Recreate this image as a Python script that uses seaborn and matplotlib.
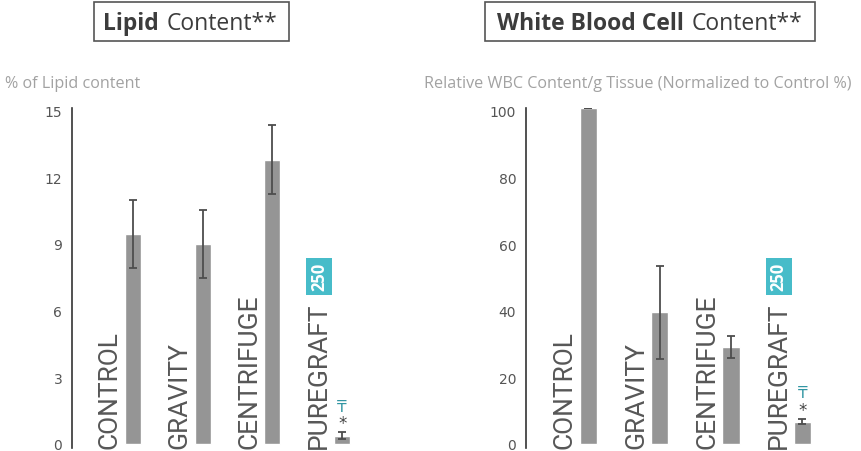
import matplotlib
matplotlib.use("Agg")
import matplotlib.pyplot as plt
import matplotlib.patches as mpatches
import matplotlib.transforms as mtransforms
import seaborn as sns
import pandas as pd

# Data
groups = ["CONTROL", "GRAVITY", "CENTRIFUGE", "PUREGRAFT"]
lipid_mean = [9.45, 9.0, 12.8, 0.35]
lipid_err = [1.55, 1.55, 1.57, 0.15]
wbc_mean = [101.0, 39.4, 29.0, 6.6]
wbc_err = [0.0, 14.1, 3.4, 0.8]
lipid_ticks = [0, 3, 6, 9, 12, 15]
wbc_ticks = [0, 20, 40, 60, 80, 100]

BAR_COLOR = "#959595"
ERR_COLOR = "#4d4d4d"
TEAL = "#47bcc9"
TEXT_DARK = "#3c3c3c"
TEXT_LIGHT = "#a2a2a2"

sns.set_style("white")
plt.rcParams["font.family"] = ["Open Sans", "DejaVu Sans"]

W, H = 862, 452
fig = plt.figure(figsize=(W / 100, H / 100), dpi=100)


def px_box(x0, y0, x1, y1):
    """Axes rectangle from pixel coords (top-left origin)."""
    return [x0 / W, 1 - y1 / H, (x1 - x0) / W, (y1 - y0) / H]


def draw_panel(ax, means, errs, ticks, ylim, bar_width):
    df = pd.DataFrame({"group": groups, "value": means})
    sns.barplot(data=df, x="group", y="value", color=BAR_COLOR, width=bar_width,
                errorbar=None, saturation=1, ax=ax)
    ax.errorbar(range(len(groups)), means, yerr=errs, fmt="none", ecolor=ERR_COLOR,
                elinewidth=1.3, capsize=3, capthick=1.3)
    ax.set_xlim(-0.875, 3.6)
    ax.set_ylim(*ylim)
    ax.set_yticks(ticks)
    ax.set_yticklabels([str(t) for t in ticks], color="#555555", fontsize=10,
                       family=["DejaVu Sans"])
    ax.tick_params(axis="y", length=0, pad=7)
    ax.set_xticks([])
    ax.set_xlabel("")
    ax.set_ylabel("")
    for s in ["top", "right", "bottom"]:
        ax.spines[s].set_visible(False)
    ax.spines["left"].set_color("#333333")
    ax.spines["left"].set_linewidth(1.2)

    # rotated category labels to the left of each bar
    trans = ax.get_xaxis_transform()
    shift = mtransforms.ScaledTranslation(-3 / 100, 0, fig.dpi_scale_trans)
    for i, g in enumerate(groups):
        ax.text(i - bar_width / 2, 0.0, g, rotation=90, ha="right", va="bottom",
                transform=trans + shift, fontsize=19, color="#575757",
                family=["Roboto", "DejaVu Sans"], fontweight="normal")

    # teal "250" badge above PUREGRAFT
    ax.text(3 - 0.33, 0.505, "250", rotation=90, ha="center", va="center",
            transform=trans, fontsize=12, fontweight="bold", color="white",
            bbox=dict(boxstyle="square,pad=0.25", facecolor=TEAL, edgecolor="none"))

    # significance marks above the PUREGRAFT bar
    top = means[3] + errs[3]
    ax.annotate("*", (3, top), xytext=(0, 0), textcoords="offset points",
                ha="center", va="bottom", fontsize=12, color="#444444",
                family=["DejaVu Sans"])
    ax.annotate("\u20b8", (3, top), xytext=(0, 13.5), textcoords="offset points",
                ha="center", va="bottom", fontsize=11, color="#3296a3",
                family=["DejaVu Sans"])


ax1 = fig.add_axes(px_box(72, 109, 384, 449))
draw_panel(ax1, lipid_mean, lipid_err, lipid_ticks, (-0.2, 15.13), 0.23)

ax2 = fig.add_axes(px_box(526, 109, 845, 449))
draw_panel(ax2, wbc_mean, wbc_err, wbc_ticks, (-1.35, 100.9), 0.24)
ax2.set_xlim(-0.877, 3.6)

# y-axis captions
fig.text(5 / W, 1 - 84 / H, "% of Lipid content", ha="left", va="center",
         fontsize=11.6, color=TEXT_LIGHT)
fig.text(424 / W, 1 - 84 / H, "Relative WBC Content/g Tissue (Normalized to Control %)",
         ha="left", va="center", fontsize=11.6, color=TEXT_LIGHT)


def boxed_title(bold, regular, split_x, box):
    x0, y0, x1, y1 = box
    fig.patches.append(mpatches.Rectangle((x0 / W, 1 - y1 / H), (x1 - x0) / W, (y1 - y0) / H,
                                          transform=fig.transFigure, fill=False,
                                          edgecolor="#555555", linewidth=1.2))
    yc = 1 - ((y0 + y1) / 2 + 1) / H
    fig.text((split_x - 4) / W, yc, bold, ha="right", va="center", fontsize=16.5,
             fontweight="bold", color=TEXT_DARK)
    fig.text((split_x + 4) / W, yc, regular, ha="left", va="center", fontsize=16.5,
             color=TEXT_DARK)


boxed_title("Lipid", "Content**", 163, (94, 3, 289, 42))
boxed_title("White Blood Cell", "Content**", 688, (485, 3, 815, 42))

fig.savefig("out.png", dpi=100)
